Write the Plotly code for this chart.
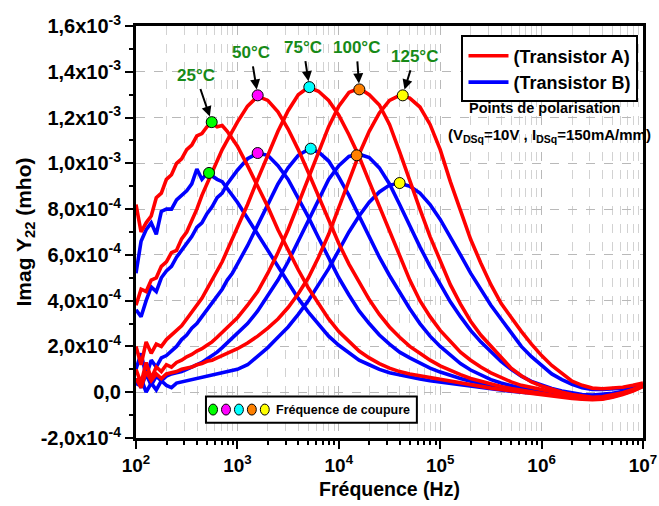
import math
import plotly.graph_objects as go

# ---------------- data ----------------
FREQ_HZ = [100, 112.2, 125.9, 141.3, 158.5, 177.8, 199.5, 223.9, 251.2, 281.8,
           316.2, 354.8, 398.1, 446.7, 501.2, 562.3, 631.0, 707.9, 794.3, 891.3,
           1000, 1259, 1585, 1995, 2512, 3162, 3981, 5012, 6310, 7943,
           10000, 12589, 15849, 19953, 25119, 31623, 39811, 50119, 63096, 79433,
           100000, 125893, 158489, 199526, 251189, 316228, 398107, 501187, 630957, 794328,
           1000000, 1258925, 1584893, 1995262, 2511886, 3162278, 3981072, 5011872, 6309573, 7943282,
           10000000]

# Imag Y22 in 1e-3 mho -- Transistor A
A_25C = [0.82, 0.70, 0.74, 0.77, 0.85, 0.87, 0.93, 0.95, 1.00, 1.02, 1.06, 1.08, 1.12, 1.13, 1.16, 1.175, 1.16, 1.165, 1.14, 1.11, 1.075,
         0.99, 0.90, 0.81, 0.71, 0.62, 0.535, 0.455, 0.385, 0.32, 0.265, 0.22, 0.18, 0.15, 0.125, 0.105, 0.09, 0.08, 0.072, 0.063,
         0.055, 0.047, 0.04, 0.032, 0.025, 0.018, 0.012, 0.006, 0.0, -0.005, -0.01, -0.016, -0.022, -0.027, -0.031, -0.033, -0.03, -0.022, -0.01, 0.005, 0.025]
A_50C = [0.38, 0.45, 0.44, 0.49, 0.50, 0.55, 0.57, 0.61, 0.62, 0.67, 0.70, 0.75, 0.80, 0.86, 0.91, 0.96, 1.01, 1.06, 1.10, 1.14, 1.18,
         1.25, 1.293, 1.275, 1.225, 1.15, 1.06, 0.96, 0.855, 0.75, 0.65, 0.56, 0.48, 0.405, 0.34, 0.285, 0.24, 0.20, 0.17, 0.14,
         0.115, 0.095, 0.077, 0.06, 0.047, 0.035, 0.025, 0.016, 0.008, 0.0, -0.006, -0.012, -0.018, -0.024, -0.028, -0.03, -0.028, -0.02, -0.008, 0.007, 0.027]
A_75C = [0.20, 0.12, 0.22, 0.17, 0.21, 0.20, 0.23, 0.25, 0.27, 0.29, 0.32, 0.35, 0.38, 0.41, 0.45, 0.49, 0.53, 0.57, 0.62, 0.67, 0.72,
         0.82, 0.93, 1.04, 1.14, 1.23, 1.30, 1.332, 1.315, 1.275, 1.21, 1.125, 1.03, 0.92, 0.81, 0.70, 0.59, 0.49, 0.40, 0.33,
         0.27, 0.22, 0.175, 0.14, 0.11, 0.085, 0.065, 0.045, 0.03, 0.02, 0.01, 0.0, -0.008, -0.016, -0.022, -0.025, -0.022, -0.015, -0.004, 0.01, 0.03]
A_100C = [0.10, 0.04, 0.13, 0.06, 0.11, 0.09, 0.12, 0.11, 0.13, 0.14, 0.155, 0.165, 0.18, 0.19, 0.205, 0.22, 0.24, 0.26, 0.28, 0.30, 0.325,
          0.38, 0.44, 0.52, 0.61, 0.71, 0.82, 0.93, 1.05, 1.16, 1.25, 1.31, 1.328, 1.30, 1.255, 1.17, 1.05, 0.92, 0.80, 0.68,
          0.57, 0.47, 0.385, 0.31, 0.25, 0.20, 0.15, 0.105, 0.072, 0.045, 0.027, 0.012, 0.0, -0.01, -0.018, -0.022, -0.02, -0.012, -0.002, 0.012, 0.03]
A_125C = [0.06, 0.02, 0.09, 0.05, 0.08, 0.06, 0.08, 0.085, 0.09, 0.10, 0.105, 0.11, 0.12, 0.125, 0.135, 0.14, 0.15, 0.16, 0.17, 0.18, 0.19,
          0.215, 0.245, 0.28, 0.32, 0.37, 0.43, 0.50, 0.59, 0.69, 0.81, 0.93, 1.04, 1.14, 1.22, 1.275, 1.297, 1.285, 1.246, 1.17,
          1.06, 0.92, 0.79, 0.668, 0.565, 0.47, 0.388, 0.325, 0.266, 0.21, 0.16, 0.117, 0.08, 0.048, 0.03, 0.018, 0.015, 0.017, 0.022, 0.03, 0.04]

# Imag Y22 in 1e-3 mho -- Transistor B
B_25C = [0.52, 0.66, 0.71, 0.74, 0.69, 0.79, 0.80, 0.80, 0.84, 0.86, 0.88, 0.91, 0.975, 0.93, 0.956, 0.945, 0.93, 0.92, 0.89, 0.86, 0.83,
         0.76, 0.69, 0.62, 0.55, 0.48, 0.41, 0.35, 0.295, 0.245, 0.205, 0.17, 0.14, 0.12, 0.10, 0.085, 0.075, 0.065, 0.058, 0.05,
         0.044, 0.037, 0.03, 0.024, 0.018, 0.013, 0.008, 0.004, 0.0, -0.004, -0.008, -0.012, -0.016, -0.019, -0.021, -0.021, -0.018, -0.012, -0.003, 0.01, 0.028]
B_50C = [0.36, 0.33, 0.40, 0.46, 0.44, 0.50, 0.53, 0.55, 0.59, 0.62, 0.65, 0.68, 0.72, 0.74, 0.78, 0.81, 0.85, 0.87, 0.91, 0.94, 0.97,
         1.02, 1.044, 1.035, 0.99, 0.93, 0.85, 0.765, 0.675, 0.585, 0.50, 0.425, 0.355, 0.30, 0.25, 0.21, 0.175, 0.15, 0.127, 0.105,
         0.088, 0.073, 0.06, 0.048, 0.037, 0.028, 0.02, 0.013, 0.007, 0.002, -0.003, -0.008, -0.012, -0.016, -0.018, -0.018, -0.016, -0.01, -0.002, 0.01, 0.028]
B_75C = [0.10, 0.17, 0.07, 0.14, 0.11, 0.15, 0.16, 0.18, 0.20, 0.23, 0.25, 0.28, 0.30, 0.33, 0.36, 0.39, 0.42, 0.45, 0.49, 0.52, 0.56,
         0.64, 0.73, 0.82, 0.91, 0.98, 1.035, 1.061, 1.05, 1.01, 0.94, 0.86, 0.77, 0.68, 0.59, 0.51, 0.435, 0.365, 0.30, 0.245,
         0.20, 0.16, 0.125, 0.097, 0.074, 0.055, 0.04, 0.028, 0.018, 0.01, 0.004, -0.002, -0.007, -0.011, -0.014, -0.015, -0.013, -0.008, 0.0, 0.012, 0.03]
B_100C = [0.06, 0.02, 0.08, 0.03, 0.07, 0.05, 0.07, 0.08, 0.085, 0.09, 0.10, 0.11, 0.12, 0.13, 0.145, 0.16, 0.175, 0.195, 0.215, 0.235, 0.255,
          0.30, 0.355, 0.42, 0.49, 0.57, 0.66, 0.75, 0.84, 0.93, 0.99, 1.03, 1.04, 1.025, 0.98, 0.91, 0.82, 0.725, 0.635, 0.55,
          0.47, 0.395, 0.33, 0.27, 0.22, 0.175, 0.135, 0.10, 0.07, 0.047, 0.03, 0.016, 0.005, -0.004, -0.01, -0.012, -0.01, -0.005, 0.003, 0.014, 0.03]
B_125C = [0.03, 0.06, 0.0, 0.04, 0.01, 0.05, 0.03, 0.02, 0.04, 0.045, 0.05, 0.055, 0.06, 0.065, 0.07, 0.075, 0.08, 0.085, 0.09, 0.095, 0.10,
          0.12, 0.155, 0.195, 0.24, 0.285, 0.34, 0.40, 0.47, 0.54, 0.62, 0.70, 0.77, 0.83, 0.875, 0.905, 0.913, 0.90, 0.87, 0.82,
          0.755, 0.68, 0.60, 0.52, 0.45, 0.38, 0.32, 0.26, 0.20, 0.155, 0.115, 0.08, 0.055, 0.035, 0.02, 0.012, 0.012, 0.014, 0.018, 0.024, 0.033]

TEMPS = ["25°C", "50°C", "75°C", "100°C", "125°C"]
# cut-off frequencies (Hz) and peak values (1e-3 mho)
FC_A = [558, 1585, 5120, 15950, 42700]
PK_A = [1.180, 1.297, 1.333, 1.323, 1.297]
FC_B = [525, 1585, 5285, 15000, 39800]
PK_B = [0.958, 1.045, 1.064, 1.035, 0.914]

X_TICKS = [1e2, 1e3, 1e4, 1e5, 1e6, 1e7]
X_TICKTEXT = ["10<sup>2</sup>", "10<sup>3</sup>", "10<sup>4</sup>", "10<sup>5</sup>", "10<sup>6</sup>", "10<sup>7</sup>"]
Y_TICKS = [-2e-4, 0, 2e-4, 4e-4, 6e-4, 8e-4, 1e-3, 1.2e-3, 1.4e-3, 1.6e-3]
Y_TICKTEXT = ["-2,0x10<sup>-4</sup>", "0,0", "2,0x10<sup>-4</sup>", "4,0x10<sup>-4</sup>", "6,0x10<sup>-4</sup>",
              "8,0x10<sup>-4</sup>", "1,0x10<sup>-3</sup>", "1,2x10<sup>-3</sup>", "1,4x10<sup>-3</sup>", "1,6x10<sup>-3</sup>"]

# ---------------- styles ----------------
RED = "#ff0000"
BLUE = "#0000ff"
MARKER_COLORS = ["#00ff00", "#ff00ff", "#00ffff", "#ff8000", "#ffff00"]
LABEL_GREEN = "#178a17"
FONT = "Liberation Sans, Arial, sans-serif"

fig = go.Figure()

series_B = [B_25C, B_50C, B_75C, B_100C, B_125C]
series_A = [A_25C, A_50C, A_75C, A_100C, A_125C]

for i, ys in enumerate(series_B):
    fig.add_trace(go.Scatter(x=FREQ_HZ, y=[v * 1e-3 for v in ys], mode="lines",
                             line=dict(color=BLUE, width=3.6), name="(Transistor B)",
                             legendgroup="B", legendrank=2, showlegend=(i == 0),
                             hovertemplate=TEMPS[i] + "<extra>B</extra>"))
for i, ys in enumerate(series_A):
    fig.add_trace(go.Scatter(x=FREQ_HZ, y=[v * 1e-3 for v in ys], mode="lines",
                             line=dict(color=RED, width=3.6), name="(Transistor A)",
                             legendgroup="A", legendrank=1, showlegend=(i == 0),
                             hovertemplate=TEMPS[i] + "<extra>A</extra>"))

for fc, pk in ((FC_A, PK_A), (FC_B, PK_B)):
    fig.add_trace(go.Scatter(x=fc, y=[v * 1e-3 for v in pk], mode="markers",
                             marker=dict(color=MARKER_COLORS, size=11, line=dict(color="black", width=1)),
                             showlegend=False, hoverinfo="skip"))

# temperature labels with arrows: label centre offset (px) from the A marker
LABEL_OFFSET = [(-16, -47), (-7, -43), (-6, -40), (-3, -42), (12, -39)]
for i in range(5):
    fig.add_annotation(x=math.log10(FC_A[i]), y=PK_A[i] * 1e-3, text=TEMPS[i],
                       showarrow=True, ax=LABEL_OFFSET[i][0], ay=LABEL_OFFSET[i][1],
                       arrowhead=2, arrowsize=1, arrowwidth=2, arrowcolor="black",
                       standoff=6, startstandoff=3,
                       font=dict(family=FONT, size=17, color=LABEL_GREEN, weight="bold"))

# bias point text
fig.add_annotation(xref="paper", yref="paper", x=0.805, y=0.800, xanchor="center", yanchor="middle",
                   text="Points de polarisation",
                   showarrow=False, font=dict(family=FONT, size=14.5, color="black", weight="bold"))
fig.add_annotation(xref="paper", yref="paper", x=0.815, y=0.734, xanchor="center", yanchor="middle",
                   text="(V<sub>DSq</sub>=10V , I<sub>DSq</sub>=150mA/mm)",
                   showarrow=False, font=dict(family=FONT, size=15, color="black", weight="bold"))

# "Fréquence de coupure" key box
fig.add_shape(type="rect", xref="paper", yref="paper", x0=0.138, x1=0.554, y0=0.037, y1=0.101,
              line=dict(color="black", width=2), fillcolor="white", layer="above")
for i, c in enumerate(MARKER_COLORS):
    cx = 0.152 + i * 0.0255
    fig.add_shape(type="circle", xref="paper", yref="paper", x0=cx - 0.0088, x1=cx + 0.0088,
                  y0=0.069 - 0.0133, y1=0.069 + 0.0133, fillcolor=c,
                  line=dict(color="black", width=1), layer="above")
fig.add_annotation(xref="paper", yref="paper", x=0.272, y=0.069, xanchor="left", yanchor="middle",
                   text="Fréquence de coupure", showarrow=False,
                   font=dict(family=FONT, size=12.5, color="black", weight="bold"))

grid = dict(showgrid=True, gridcolor="#b9b9b9", gridwidth=1, griddash="dash")

fig.update_layout(
    width=659, height=506,
    margin=dict(l=136, r=16, t=26, b=68),
    paper_bgcolor="white", plot_bgcolor="white",
    font=dict(family=FONT, color="black"),
    legend=dict(x=0.642, y=0.977, xanchor="left", yanchor="top", bgcolor="white",
                bordercolor="black", borderwidth=2, itemwidth=40, tracegroupgap=0,
                font=dict(family=FONT, size=18, color="black", weight="bold")),
    xaxis=dict(type="log", range=[2, 7], tickvals=X_TICKS, ticktext=X_TICKTEXT,
               automargin=False,
               showline=True, linecolor="black", linewidth=3, mirror=True,
               ticks="outside", ticklen=8, tickwidth=2, tickcolor="black",
               tickfont=dict(family=FONT, size=19, weight="bold"),
               zeroline=False,
               minor=dict(tickvals=[m * d for d in (1e2, 1e3, 1e4, 1e5, 1e6) for m in range(2, 10)],
                          ticks="outside", ticklen=4, tickwidth=1.5, tickcolor="black",
                          showgrid=True, gridcolor="#d2d2d2", griddash="dash", gridwidth=1),
               title=dict(text="Fréquence (Hz)", standoff=8,
                          font=dict(family=FONT, size=19.5, weight="bold")),
               **grid),
    yaxis=dict(range=[-2e-4, 1.6e-3], tickvals=Y_TICKS, ticktext=Y_TICKTEXT,
               automargin=False,
               showline=True, linecolor="black", linewidth=3, mirror=True,
               ticks="outside", ticklen=8, tickwidth=2, tickcolor="black",
               tickfont=dict(family=FONT, size=20, weight="bold"),
               zeroline=False,
               minor=dict(dtick=1e-4, ticks="outside", ticklen=4, tickwidth=1.5, tickcolor="black",
                          showgrid=False),
               title=dict(text="Imag Y<sub>22</sub> (mho)", standoff=4,
                          font=dict(family=FONT, size=21, weight="bold")),
               **grid),
)

fig.write_html("out.html", config={"displayModeBar": False},
               post_script="document.body.style.margin='0';")
